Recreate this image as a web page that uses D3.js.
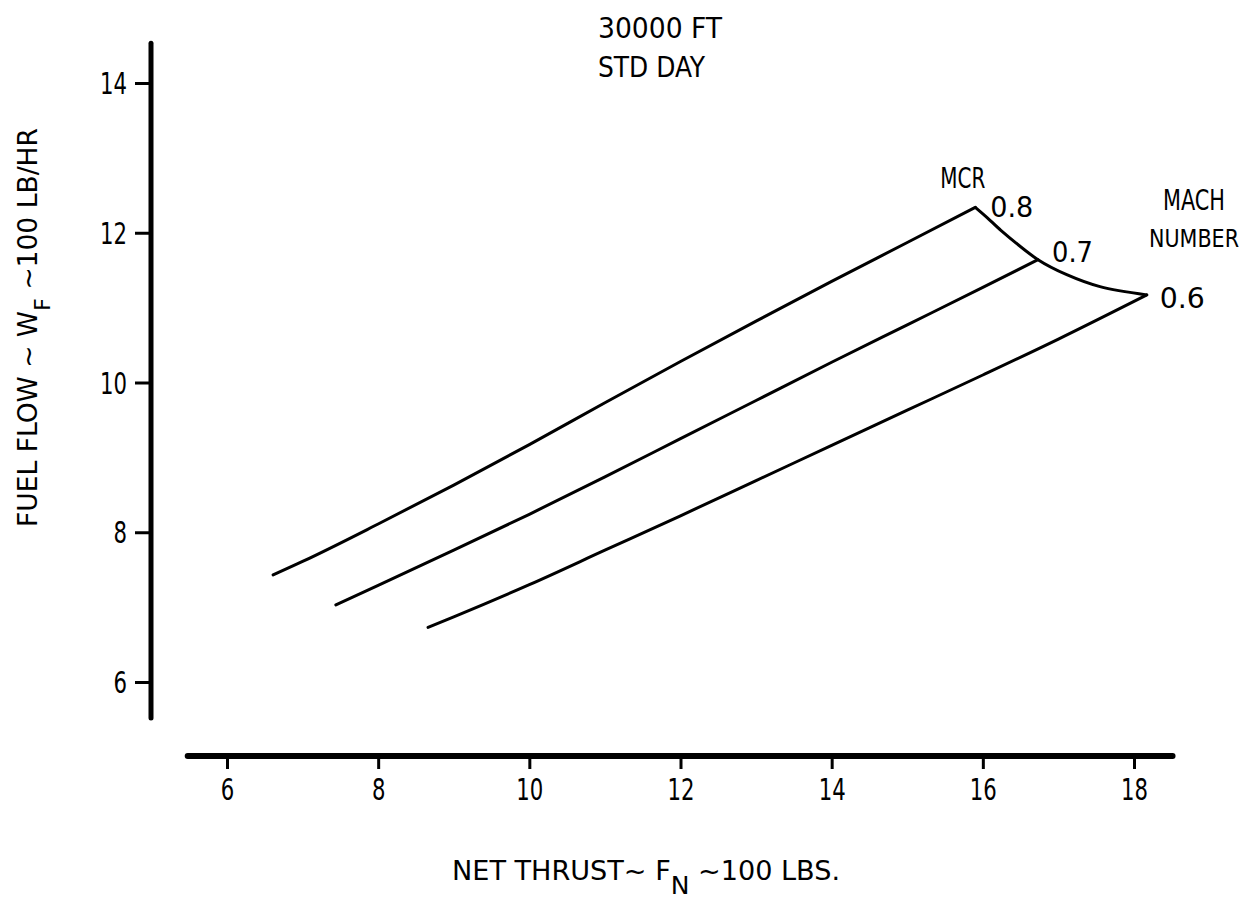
<!DOCTYPE html>
<html><head><meta charset="utf-8">
<script src="https://cdn.jsdelivr.net/npm/d3@7"></script>
<style>
body{margin:0;background:#fff;}
svg{display:block;background:#fff;}
text{font-family:"Liberation Sans Narrow","DejaVu Sans Condensed","Liberation Sans",sans-serif;fill:#000;}
</style></head><body>
<svg id="chart" width="1251" height="908"></svg>
<script>
// ---- data ----
const xTicks = [6, 8, 10, 12, 14, 16, 18];
const yTicks = [6, 8, 10, 12, 14];
const titleLines = ["30000 FT", "STD DAY"];
const machLabels = ["0.8", "0.7", "0.6"];
const mach08X = [6.61, 7.0, 8.0, 9.0, 10.0, 11.0, 12.0, 13.0, 14.0, 15.0, 15.9];
const mach08Y = [7.43, 7.61, 8.11, 8.63, 9.17, 9.73, 10.28, 10.82, 11.35, 11.87, 12.34];
const mach07X = [7.44, 8.0, 9.0, 10.0, 11.0, 12.0, 13.0, 14.0, 15.0, 16.0, 16.73];
const mach07Y = [7.03, 7.29, 7.76, 8.24, 8.74, 9.25, 9.76, 10.27, 10.77, 11.27, 11.64];
const mach06X = [8.66, 9.0, 10.0, 11.0, 12.0, 13.0, 14.0, 15.0, 16.0, 17.0, 18.17];
const mach06Y = [6.73, 6.87, 7.30, 7.76, 8.22, 8.69, 9.16, 9.63, 10.10, 10.58, 11.17];
const mcrX = [15.9, 16.06, 16.23, 16.73, 17.11, 17.55, 18.17];
const mcrY = [12.34, 12.20, 12.04, 11.64, 11.44, 11.28, 11.17];

const svg = d3.select("#chart");
const x = d3.scaleLinear().domain([6, 18]).range([227, 1134]);
const y = d3.scaleLinear().domain([6, 14]).range([682, 83]);

const zip = (xs, ys) => xs.map((v, i) => [v, ys[i]]);
const line = d3.line().x(d => x(d[0])).y(d => y(d[1])).curve(d3.curveMonotoneX);
const mcrLine = d3.line().x(d => x(d[0])).y(d => y(d[1])).curve(d3.curveCatmullRom.alpha(0.5));

// ---- axes ----
const xAxisY = 756;
const yAxisX = 151;

const gx = svg.append("g").attr("transform", `translate(0,${xAxisY})`)
  .call(d3.axisBottom(x).tickValues(xTicks).tickSize(13).tickFormat(d3.format("d")));
gx.select(".domain").remove();
gx.selectAll(".tick line").attr("stroke", "#000").attr("stroke-width", 3);
gx.selectAll(".tick text").attr("y", 44).attr("dy", 0).attr("font-size", 31).attr("fill", "#000")
  .attr("textLength", d => String(d).length * 13.5).attr("lengthAdjust", "spacingAndGlyphs");
svg.append("line").attr("x1", x(5.48)).attr("x2", x(18.51)).attr("y1", xAxisY).attr("y2", xAxisY)
  .attr("stroke", "#000").attr("stroke-width", 6).attr("stroke-linecap", "round");

const gy = svg.append("g").attr("transform", `translate(${yAxisX},0)`)
  .call(d3.axisLeft(y).tickValues(yTicks).tickSize(16).tickPadding(8).tickFormat(d3.format("d")));
gy.select(".domain").remove();
gy.selectAll(".tick line").attr("stroke", "#000").attr("stroke-width", 3);
gy.selectAll(".tick text").attr("x", -24).attr("dy", "0.35em").attr("font-size", 30).attr("fill", "#000")
  .attr("textLength", d => String(d).length * 13.5).attr("lengthAdjust", "spacingAndGlyphs");
svg.append("line").attr("x1", yAxisX).attr("x2", yAxisX).attr("y1", y(14.53)).attr("y2", y(5.52))
  .attr("stroke", "#000").attr("stroke-width", 5).attr("stroke-linecap", "round");

// ---- curves ----
const series = [zip(mach08X, mach08Y), zip(mach07X, mach07Y), zip(mach06X, mach06Y)];
svg.selectAll("path.mach").data(series).enter().append("path")
  .attr("class", "mach").attr("d", line)
  .attr("fill", "none").attr("stroke", "#000").attr("stroke-width", 3).attr("stroke-linecap", "round");
svg.append("path").attr("d", mcrLine(zip(mcrX, mcrY)))
  .attr("fill", "none").attr("stroke", "#000").attr("stroke-width", 3).attr("stroke-linejoin", "round");

// ---- labels ----
const ends = series.map(s => s[s.length - 1]);
const labOff = [[15, 10], [14, 2], [13, 13]];
const labW = [43, 41, 45];
machLabels.forEach((t, i) => {
  svg.append("text").attr("x", x(ends[i][0]) + labOff[i][0]).attr("y", y(ends[i][1]) + labOff[i][1])
    .attr("font-size", 28).attr("textLength", labW[i]).attr("lengthAdjust", "spacingAndGlyphs").text(t);
});
svg.append("text").attr("x", x(ends[0][0]) - 35).attr("y", y(ends[0][1]) - 19)
  .attr("font-size", 28).attr("textLength", 45).attr("lengthAdjust", "spacingAndGlyphs").text("MCR");
svg.append("text").attr("x", 1163).attr("y", 210).attr("font-size", 28)
  .attr("textLength", 62).attr("lengthAdjust", "spacingAndGlyphs").text("MACH");
svg.append("text").attr("x", 1149).attr("y", 247).attr("font-size", 24)
  .attr("textLength", 90).attr("lengthAdjust", "spacingAndGlyphs").text("NUMBER");

// title
const titleW = [124, 107];
titleLines.forEach((t, i) => {
  svg.append("text").attr("x", 598).attr("y", 38 + i * 39).attr("font-size", 28)
    .attr("textLength", titleW[i]).attr("lengthAdjust", "spacingAndGlyphs").text(t);
});

// x axis title
const xt = svg.append("text").attr("x", 452).attr("y", 880).attr("font-size", 26)
  .attr("textLength", 388).attr("lengthAdjust", "spacingAndGlyphs");
xt.append("tspan").text("NET THRUST~ F");
xt.append("tspan").attr("dy", 14).attr("font-size", 24).text("N");
xt.append("tspan").attr("dy", -14).text(" ~100 LBS.");

// y axis title
const yt = svg.append("text").attr("transform", "translate(37,527) rotate(-90)").attr("font-size", 26)
  .attr("textLength", 399).attr("lengthAdjust", "spacingAndGlyphs");
yt.append("tspan").text("FUEL FLOW ~ W");
yt.append("tspan").attr("dy", 13).attr("font-size", 22).text("F");
yt.append("tspan").attr("dy", -13).text(" ~100 LB/HR");
</script>
</body></html>
